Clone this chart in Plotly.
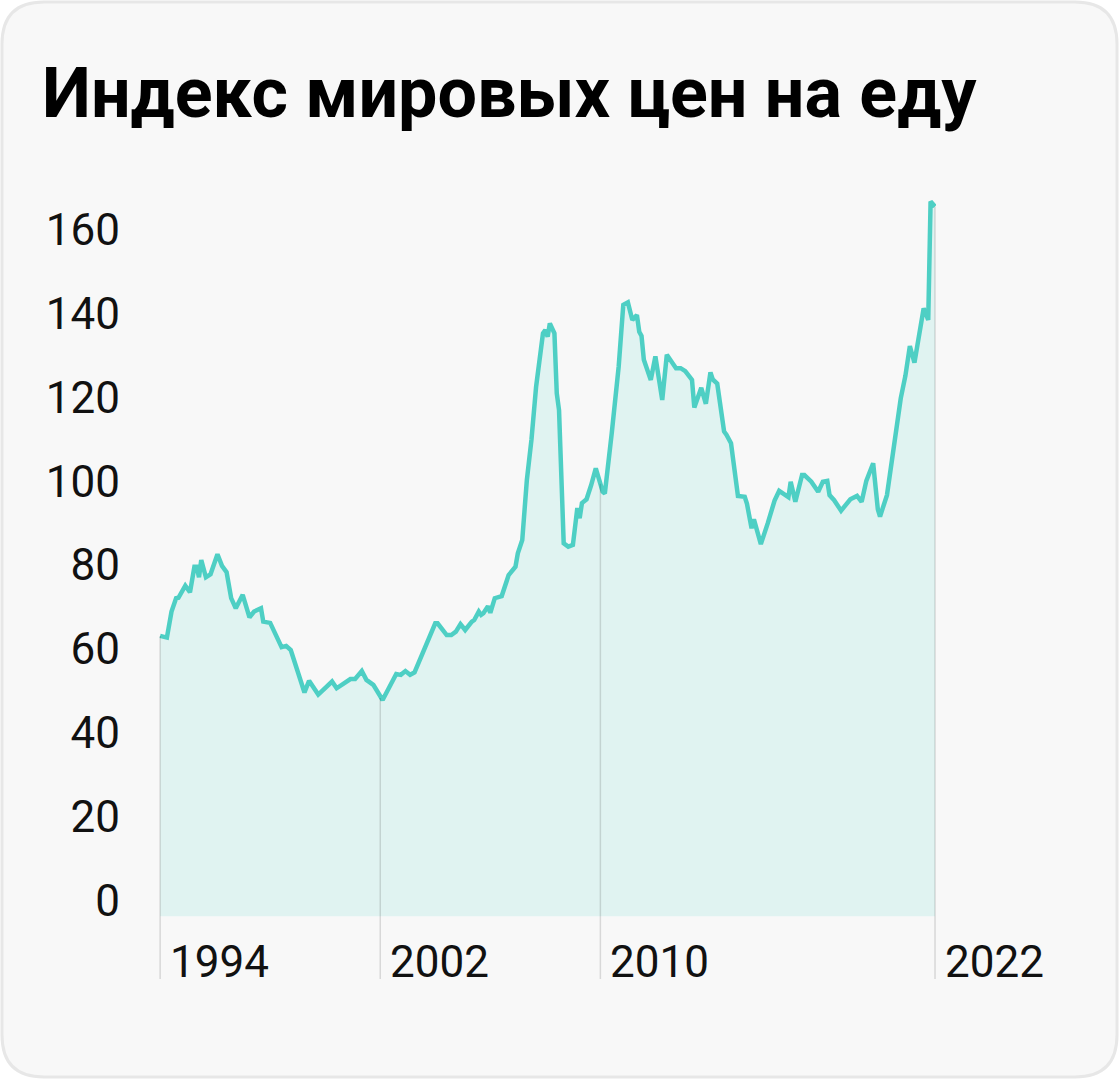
import numpy as np
import pandas as pd
import plotly.graph_objects as go

# food price index
dates = [
    "1994-01", "1994-04", "1994-06", "1994-08", "1994-09", "1994-12", "1995-02", "1995-04",
    "1995-05", "1995-06", "1995-07", "1995-09", "1995-11", "1996-02", "1996-04", "1996-06",
    "1996-08", "1996-10", "1997-01", "1997-02", "1997-04", "1997-06", "1997-09", "1997-10",
    "1998-01", "1998-06", "1998-08", "1998-10", "1999-01", "1999-04", "1999-06", "1999-10",
    "2000-04", "2000-06", "2000-12", "2001-02", "2001-05", "2001-07", "2001-10", "2002-01",
    "2002-02", "2002-08", "2002-10", "2002-12", "2003-02", "2003-04", "2004-01", "2004-02",
    "2004-06", "2004-08", "2004-10", "2004-12", "2005-02", "2005-05", "2005-06", "2005-08",
    "2005-09", "2005-10", "2005-12", "2006-01", "2006-03", "2006-06", "2006-09", "2006-12",
    "2007-01", "2007-03", "2007-05", "2007-07", "2007-09", "2007-12", "2008-01", "2008-02",
    "2008-03", "2008-05", "2008-06", "2008-07", "2008-08", "2008-09", "2008-11", "2009-01",
    "2009-03", "2009-04", "2009-05", "2009-07", "2009-09", "2009-11", "2010-02", "2010-03",
    "2010-06", "2010-09", "2010-11", "2011-01", "2011-03", "2011-05", "2011-06", "2011-07",
    "2011-08", "2011-11", "2012-01", "2012-04", "2012-06", "2012-10", "2012-12", "2013-02",
    "2013-05", "2013-06", "2013-09", "2013-11", "2014-01", "2014-02", "2014-04", "2014-07",
    "2014-08", "2014-10", "2015-01", "2015-04", "2015-05", "2015-07", "2015-08", "2015-11",
    "2016-02", "2016-05", "2016-07", "2016-11", "2016-12", "2017-02", "2017-05", "2017-06",
    "2017-09", "2017-12", "2018-02", "2018-04", "2018-05", "2018-07", "2018-10", "2019-02",
    "2019-05", "2019-07", "2019-09", "2019-12", "2020-02", "2020-03", "2020-06", "2020-09",
    "2020-12", "2021-02", "2021-04", "2021-06", "2021-08", "2021-10", "2021-12", "2022-01",
    "2022-03",
]
values = [
    66.9, 66.5, 72.7, 75.9, 76.0, 78.9, 77.3, 83.4,
    83.4, 80.9, 85.0, 80.9, 81.6, 86.4, 83.6, 82.1,
    75.9, 73.5, 76.7, 75.1, 71.3, 72.7, 73.5, 70.3,
    70.0, 64.2, 64.5, 63.5, 58.0, 53.4, 56.2, 52.9,
    56.0, 54.4, 56.6, 56.6, 58.5, 56.4, 55.2, 52.1,
    51.6, 57.8, 57.6, 58.5, 57.6, 58.2, 69.9, 69.9,
    67.1, 67.1, 67.9, 69.7, 68.3, 70.3, 70.7, 72.7,
    71.9, 72.3, 74.0, 72.4, 75.9, 76.4, 81.4, 83.4,
    86.6, 89.8, 104.1, 113.7, 126.4, 139.1, 139.9, 138.3,
    141.5, 139.1, 124.8, 120.8, 104.9, 89.0, 88.2, 88.6,
    97.4, 95.0, 98.6, 99.5, 102.9, 106.9, 101.3, 100.9,
    115.3, 131.2, 145.9, 146.5, 142.3, 143.5, 139.5, 138.5,
    132.8, 128.0, 133.6, 123.2, 134.0, 130.8, 130.8, 130.1,
    128.0, 121.4, 126.1, 122.3, 129.8, 128.1, 127.1, 115.7,
    114.9, 112.9, 100.3, 100.1, 98.4, 92.6, 94.7, 88.8,
    93.8, 99.2, 101.5, 100.0, 103.7, 98.9, 105.3, 105.3,
    103.7, 101.3, 103.7, 103.9, 100.5, 99.3, 96.8, 99.5,
    100.3, 98.9, 103.9, 108.1, 97.1, 95.4, 100.5, 111.3,
    123.6, 129.0, 136.1, 132.1, 138.7, 145.1, 142.3, 170.6,
    169.4,
]
marker_dates = ["1994-01", "2002-01", "2010-01", "2022-03"]
marker_labels = ["1994", "2002", "2010", "2022"]
y_ticks = [0, 20, 40, 60, 80, 100, 120, 140, 160]

W, H = 1120, 1080
ml, mr, mt, mb = 159, 184, 183, 101
FONT = "Roboto"

x = pd.to_datetime(dates)
xm = pd.to_datetime(marker_dates)

fig = go.Figure()
fig.add_trace(go.Scatter(
    x=x, y=values, mode="lines", fill="tozeroy",
    line=dict(color="#4ecfc4", width=4.5),
    fillcolor="#e0f3f1", hoverinfo="skip",
))

# vertical year markers, from the curve down below the baseline
t_num = x.astype("int64").to_numpy()
m_num = xm.astype("int64").to_numpy()
tops = np.interp(m_num, t_num, values)
for d, top, lab in zip(xm, tops, marker_labels):
    fig.add_shape(type="line", xref="x", yref="y", x0=d, x1=d, y0=-15, y1=top,
                  line=dict(color="rgba(0,0,0,0.13)", width=1.5), layer="above")
    fig.add_annotation(x=d, y=-15, xref="x", yref="y", text=lab, showarrow=False,
                       xanchor="left", yanchor="bottom", xshift=8, yshift=-11,
                       font=dict(family=FONT, size=44, color="#111"))

# card background
pw, ph = W - ml - mr, H - mt - mb
def px(v):
    return (v - ml) / pw
def py(v):
    return (H - mb - v) / ph
x0, x1, y0, y1, r = 2, 1117, 2, 1077, 42
path = (f"M {px(x0 + r)} {py(y0)} L {px(x1 - r)} {py(y0)} Q {px(x1)} {py(y0)} {px(x1)} {py(y0 + r)} "
        f"L {px(x1)} {py(y1 - r)} Q {px(x1)} {py(y1)} {px(x1 - r)} {py(y1)} "
        f"L {px(x0 + r)} {py(y1)} Q {px(x0)} {py(y1)} {px(x0)} {py(y1 - r)} "
        f"L {px(x0)} {py(y0 + r)} Q {px(x0)} {py(y0)} {px(x0 + r)} {py(y0)} Z")
fig.add_shape(type="path", xref="paper", yref="paper", path=path,
              fillcolor="#f8f8f8", line=dict(color="#e7e7e7", width=3), layer="below")

fig.add_annotation(x=px(40), y=py(136), xref="paper", yref="paper",
                   text="Индекс мировых цен на еду", showarrow=False,
                   xanchor="left", yanchor="bottom",
                   font=dict(family=FONT, size=70, color="#000", weight=700))

fig.update_layout(
    width=W, height=H,
    margin=dict(l=ml, r=mr, t=mt, b=mb),
    paper_bgcolor="white", plot_bgcolor="rgba(0,0,0,0)",
    showlegend=False,
    xaxis=dict(range=[pd.Timestamp("1993-12-17"), pd.Timestamp("2022-03-14")],
               visible=False, showgrid=False, zeroline=False),
    yaxis=dict(range=[-15, 175], tickvals=y_ticks, showgrid=False, zeroline=False,
               showline=False, ticks="", ticklabelposition="outside",
               ticklabelstandoff=38, ticklabelshift=-16,
               tickfont=dict(family=FONT, size=44, color="#111")),
)

fig.write_html("out.html", config={"displayModeBar": False},
               post_script="document.body.style.margin='0';")
